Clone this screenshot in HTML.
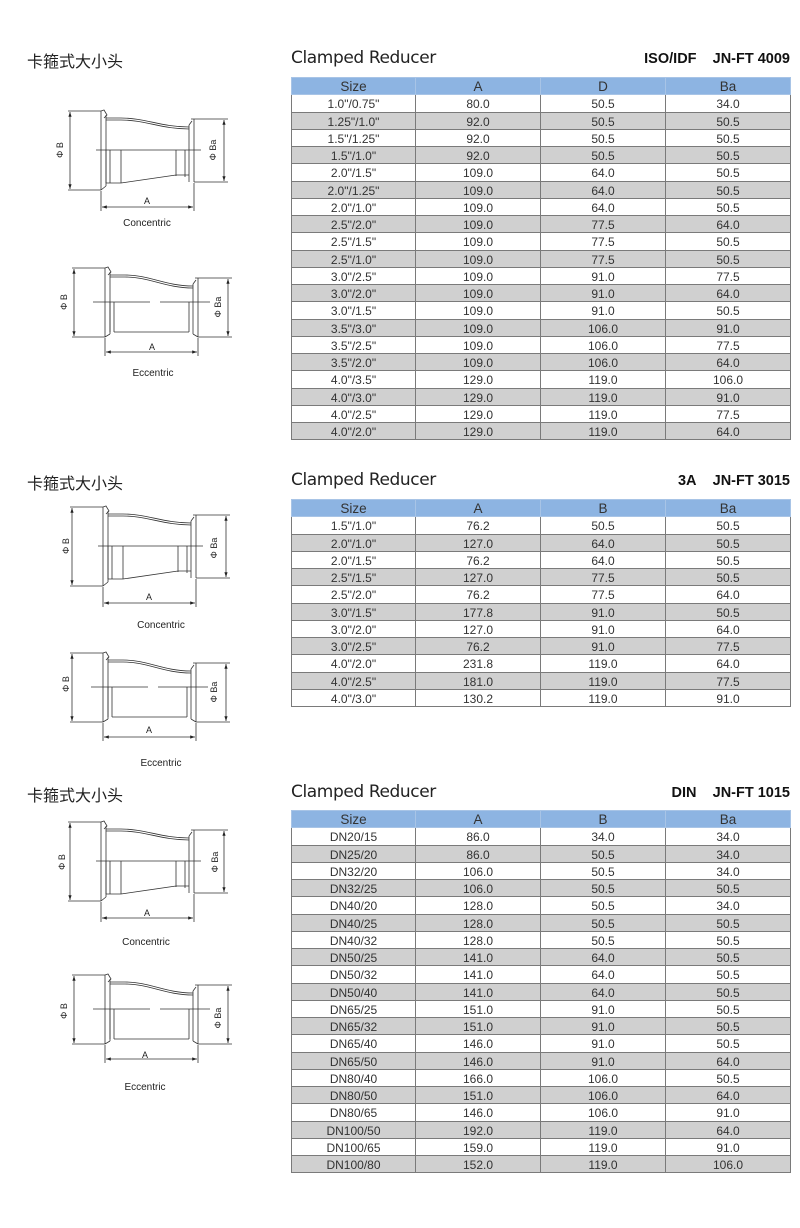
<!DOCTYPE html>
<html><head><meta charset="utf-8"><style>
body{margin:0;width:800px;height:1228px;background:#fff;position:relative;font-family:"Liberation Sans",Arial,sans-serif;overflow:hidden}
.cn{position:absolute;left:27px;font-family:"Liberation Sans","Noto Sans CJK SC",sans-serif;font-size:16px;color:#222}
.ti{position:absolute;left:291px;font-size:17px;color:#222;font-family:"DejaVu Sans","Liberation Sans",sans-serif;letter-spacing:-0.4px}
.code{position:absolute;right:10px;font-size:14.5px;font-weight:bold;color:#111}
table{position:absolute;left:291px;width:499px;border-collapse:collapse;font-size:12px;color:#333;table-layout:fixed}
td,th{border:1px solid #7a7a7a;text-align:center;padding:2px 0 0 0;height:14.25px;line-height:14px;font-weight:normal;vertical-align:middle}
th{background:#8db4e2;font-size:13.5px;color:#333;border-color:#a8c4e6}
tr:nth-child(odd) td{background:#d0d0d0}
svg{position:absolute;left:0;top:0}
</style></head><body>
<div class="cn" style="top:48px">卡箍式大小头</div>
<div class="ti" style="top:48px">Clamped Reducer</div>
<div class="code" style="top:51px">ISO/IDF&nbsp;&nbsp;&nbsp; JN-FT 4009</div>
<table style="top:77px"><colgroup><col style="width:124px"><col style="width:125px"><col style="width:125px"><col style="width:125px"></colgroup>
<tr><th>Size</th><th>A</th><th>D</th><th>Ba</th></tr>
<tr><td>1.0"/0.75"</td><td>80.0</td><td>50.5</td><td>34.0</td></tr>
<tr><td>1.25"/1.0"</td><td>92.0</td><td>50.5</td><td>50.5</td></tr>
<tr><td>1.5"/1.25"</td><td>92.0</td><td>50.5</td><td>50.5</td></tr>
<tr><td>1.5"/1.0"</td><td>92.0</td><td>50.5</td><td>50.5</td></tr>
<tr><td>2.0"/1.5"</td><td>109.0</td><td>64.0</td><td>50.5</td></tr>
<tr><td>2.0"/1.25"</td><td>109.0</td><td>64.0</td><td>50.5</td></tr>
<tr><td>2.0"/1.0"</td><td>109.0</td><td>64.0</td><td>50.5</td></tr>
<tr><td>2.5"/2.0"</td><td>109.0</td><td>77.5</td><td>64.0</td></tr>
<tr><td>2.5"/1.5"</td><td>109.0</td><td>77.5</td><td>50.5</td></tr>
<tr><td>2.5"/1.0"</td><td>109.0</td><td>77.5</td><td>50.5</td></tr>
<tr><td>3.0"/2.5"</td><td>109.0</td><td>91.0</td><td>77.5</td></tr>
<tr><td>3.0"/2.0"</td><td>109.0</td><td>91.0</td><td>64.0</td></tr>
<tr><td>3.0"/1.5"</td><td>109.0</td><td>91.0</td><td>50.5</td></tr>
<tr><td>3.5"/3.0"</td><td>109.0</td><td>106.0</td><td>91.0</td></tr>
<tr><td>3.5"/2.5"</td><td>109.0</td><td>106.0</td><td>77.5</td></tr>
<tr><td>3.5"/2.0"</td><td>109.0</td><td>106.0</td><td>64.0</td></tr>
<tr><td>4.0"/3.5"</td><td>129.0</td><td>119.0</td><td>106.0</td></tr>
<tr><td>4.0"/3.0"</td><td>129.0</td><td>119.0</td><td>91.0</td></tr>
<tr><td>4.0"/2.5"</td><td>129.0</td><td>119.0</td><td>77.5</td></tr>
<tr><td>4.0"/2.0"</td><td>129.0</td><td>119.0</td><td>64.0</td></tr>
</table>

<div class="cn" style="top:470px">卡箍式大小头</div>
<div class="ti" style="top:470px">Clamped Reducer</div>
<div class="code" style="top:473px">3A&nbsp;&nbsp;&nbsp; JN-FT 3015</div>
<table style="top:499px"><colgroup><col style="width:124px"><col style="width:125px"><col style="width:125px"><col style="width:125px"></colgroup>
<tr><th>Size</th><th>A</th><th>B</th><th>Ba</th></tr>
<tr><td>1.5"/1.0"</td><td>76.2</td><td>50.5</td><td>50.5</td></tr>
<tr><td>2.0"/1.0"</td><td>127.0</td><td>64.0</td><td>50.5</td></tr>
<tr><td>2.0"/1.5"</td><td>76.2</td><td>64.0</td><td>50.5</td></tr>
<tr><td>2.5"/1.5"</td><td>127.0</td><td>77.5</td><td>50.5</td></tr>
<tr><td>2.5"/2.0"</td><td>76.2</td><td>77.5</td><td>64.0</td></tr>
<tr><td>3.0"/1.5"</td><td>177.8</td><td>91.0</td><td>50.5</td></tr>
<tr><td>3.0"/2.0"</td><td>127.0</td><td>91.0</td><td>64.0</td></tr>
<tr><td>3.0"/2.5"</td><td>76.2</td><td>91.0</td><td>77.5</td></tr>
<tr><td>4.0"/2.0"</td><td>231.8</td><td>119.0</td><td>64.0</td></tr>
<tr><td>4.0"/2.5"</td><td>181.0</td><td>119.0</td><td>77.5</td></tr>
<tr><td>4.0"/3.0"</td><td>130.2</td><td>119.0</td><td>91.0</td></tr>
</table>

<div class="cn" style="top:782px">卡箍式大小头</div>
<div class="ti" style="top:782px">Clamped Reducer</div>
<div class="code" style="top:785px">DIN&nbsp;&nbsp;&nbsp; JN-FT 1015</div>
<table style="top:810px"><colgroup><col style="width:124px"><col style="width:125px"><col style="width:125px"><col style="width:125px"></colgroup>
<tr><th>Size</th><th>A</th><th>B</th><th>Ba</th></tr>
<tr><td>DN20/15</td><td>86.0</td><td>34.0</td><td>34.0</td></tr>
<tr><td>DN25/20</td><td>86.0</td><td>50.5</td><td>34.0</td></tr>
<tr><td>DN32/20</td><td>106.0</td><td>50.5</td><td>34.0</td></tr>
<tr><td>DN32/25</td><td>106.0</td><td>50.5</td><td>50.5</td></tr>
<tr><td>DN40/20</td><td>128.0</td><td>50.5</td><td>34.0</td></tr>
<tr><td>DN40/25</td><td>128.0</td><td>50.5</td><td>50.5</td></tr>
<tr><td>DN40/32</td><td>128.0</td><td>50.5</td><td>50.5</td></tr>
<tr><td>DN50/25</td><td>141.0</td><td>64.0</td><td>50.5</td></tr>
<tr><td>DN50/32</td><td>141.0</td><td>64.0</td><td>50.5</td></tr>
<tr><td>DN50/40</td><td>141.0</td><td>64.0</td><td>50.5</td></tr>
<tr><td>DN65/25</td><td>151.0</td><td>91.0</td><td>50.5</td></tr>
<tr><td>DN65/32</td><td>151.0</td><td>91.0</td><td>50.5</td></tr>
<tr><td>DN65/40</td><td>146.0</td><td>91.0</td><td>50.5</td></tr>
<tr><td>DN65/50</td><td>146.0</td><td>91.0</td><td>64.0</td></tr>
<tr><td>DN80/40</td><td>166.0</td><td>106.0</td><td>50.5</td></tr>
<tr><td>DN80/50</td><td>151.0</td><td>106.0</td><td>64.0</td></tr>
<tr><td>DN80/65</td><td>146.0</td><td>106.0</td><td>91.0</td></tr>
<tr><td>DN100/50</td><td>192.0</td><td>119.0</td><td>64.0</td></tr>
<tr><td>DN100/65</td><td>159.0</td><td>119.0</td><td>91.0</td></tr>
<tr><td>DN100/80</td><td>152.0</td><td>119.0</td><td>106.0</td></tr>
</table>

<svg width="800" height="1228" viewBox="0 0 800 1228">
<defs>
<marker id="ar" markerWidth="6" markerHeight="6" refX="6" refY="3" orient="auto-start-reverse"><path d="M0,1 L6,3 L0,5z" fill="#222"/></marker>
<g id="con" fill="none" stroke="#333" stroke-width="0.8">
<line x1="-33" y1="0" x2="0" y2="0"/><line x1="-33" y1="79" x2="0" y2="79"/>
<line x1="-31" y1="1" x2="-31" y2="78" marker-start="url(#ar)" marker-end="url(#ar)"/>
<path d="M0,0 L0,79 M5,4 L5,75 M0,0 L3,-1 L6,4 L3,7 M0,79 L5,75"/>
<path d="M5,7 L20,7 C45,7 60,16 88,16 M5,9 L20,9 C45,9 60,18 88,18"/>
<path d="M88,14 L88,71 M93,8 L93,71 M90,8 L93,8 M88,14 L91,10"/>
<line x1="-5" y1="39" x2="100" y2="39"/>
<path d="M5,39 L5,72 M9,39 L9,72 M20,39 L20,72 M75,39 L75,65 M84,39 L84,66 M5,72 L20,72 L75,64 L88,64"/>
<line x1="93" y1="8" x2="127" y2="8"/><line x1="93" y1="71" x2="127" y2="71"/>
<line x1="123" y1="9" x2="123" y2="70" marker-start="url(#ar)" marker-end="url(#ar)"/>
<line x1="0" y1="80" x2="0" y2="100"/><line x1="93" y1="72" x2="93" y2="100"/>
<line x1="1" y1="96" x2="92" y2="96" marker-start="url(#ar)" marker-end="url(#ar)"/>
</g>
<g id="ecc" fill="none" stroke="#333" stroke-width="0.8">
<line x1="-33" y1="0" x2="0" y2="0"/><line x1="-33" y1="69" x2="0" y2="69"/>
<line x1="-31" y1="1" x2="-31" y2="68" marker-start="url(#ar)" marker-end="url(#ar)"/>
<path d="M0,0 L0,69 M5,4 L5,66 M0,0 L3,-1 L6,4 L3,7 M0,69 L5,66"/>
<path d="M5,7 L20,7 C45,7 60,18 88,18 M5,9 L20,9 C45,9 60,20 88,20"/>
<path d="M88,16 L88,66 M93,10 L93,69 M90,10 L93,10 M88,16 L91,12 M88,66 L93,69"/>
<path d="M-12,34 L45,34 M55,34 L105,34"/>
<path d="M5,34 L5,64 M9,34 L9,64 M84,34 L84,64 M9,64 L84,64"/>
<line x1="93" y1="10" x2="127" y2="10"/><line x1="93" y1="69" x2="127" y2="69"/>
<line x1="123" y1="11" x2="123" y2="68" marker-start="url(#ar)" marker-end="url(#ar)"/>
<line x1="0" y1="70" x2="0" y2="88"/><line x1="93" y1="70" x2="93" y2="88"/>
<line x1="1" y1="84" x2="92" y2="84" marker-start="url(#ar)" marker-end="url(#ar)"/>
</g>
</defs>
<use href="#con" x="101" y="111"/>
<use href="#ecc" x="105" y="268"/>
<use href="#con" x="103" y="507"/>
<use href="#ecc" x="103" y="653"/>
<use href="#con" x="101" y="822"/>
<use href="#ecc" x="105" y="975"/>
<g font-family="Liberation Sans, sans-serif" font-size="9" fill="#222">
<text x="63" y="150" transform="rotate(-90 63 150)" text-anchor="middle">Φ B</text>
<text x="216" y="150" transform="rotate(-90 216 150)" text-anchor="middle">Φ Ba</text>
<text x="147" y="204" text-anchor="middle">A</text>
<text x="147" y="226" text-anchor="middle" font-size="10">Concentric</text>
<text x="67" y="302" transform="rotate(-90 67 302)" text-anchor="middle">Φ B</text>
<text x="221" y="307" transform="rotate(-90 221 307)" text-anchor="middle">Φ Ba</text>
<text x="152" y="350" text-anchor="middle">A</text>
<text x="153" y="376" text-anchor="middle" font-size="10">Eccentric</text>

<text x="69" y="546" transform="rotate(-90 69 546)" text-anchor="middle">Φ B</text>
<text x="217" y="548" transform="rotate(-90 217 548)" text-anchor="middle">Φ Ba</text>
<text x="149" y="600" text-anchor="middle">A</text>
<text x="161" y="628" text-anchor="middle" font-size="10">Concentric</text>
<text x="69" y="684" transform="rotate(-90 69 684)" text-anchor="middle">Φ B</text>
<text x="217" y="692" transform="rotate(-90 217 692)" text-anchor="middle">Φ Ba</text>
<text x="149" y="733" text-anchor="middle">A</text>
<text x="161" y="766" text-anchor="middle" font-size="10">Eccentric</text>

<text x="65" y="862" transform="rotate(-90 65 862)" text-anchor="middle">Φ B</text>
<text x="218" y="862" transform="rotate(-90 218 862)" text-anchor="middle">Φ Ba</text>
<text x="147" y="916" text-anchor="middle">A</text>
<text x="146" y="945" text-anchor="middle" font-size="10">Concentric</text>
<text x="67" y="1011" transform="rotate(-90 67 1011)" text-anchor="middle">Φ B</text>
<text x="221" y="1018" transform="rotate(-90 221 1018)" text-anchor="middle">Φ Ba</text>
<text x="145" y="1058" text-anchor="middle">A</text>
<text x="145" y="1090" text-anchor="middle" font-size="10">Eccentric</text>
</g>
</svg>
</body></html>
